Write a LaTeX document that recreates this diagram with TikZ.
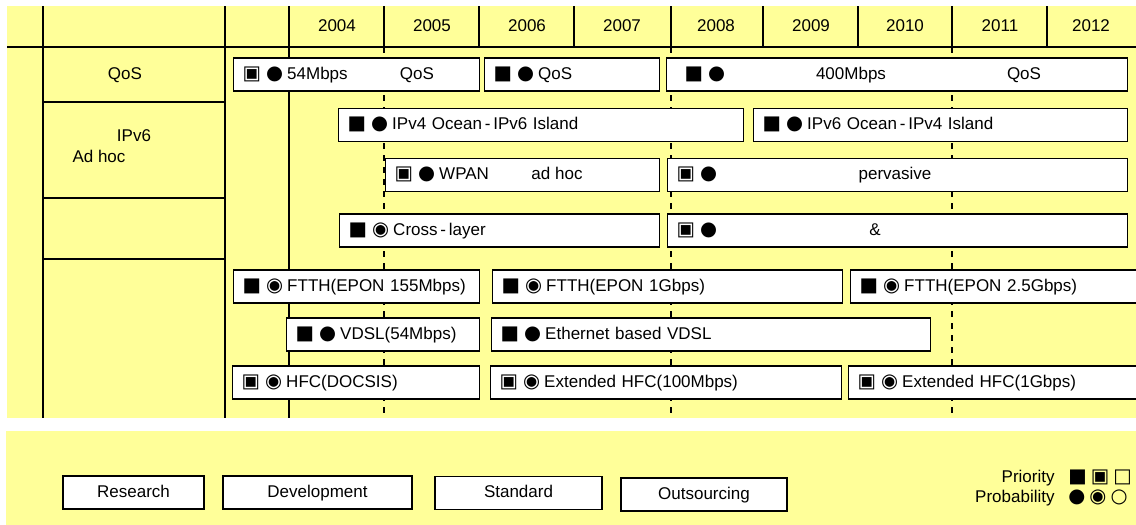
\documentclass[tikz,border=0pt]{standalone}
\usepackage{fontspec}
\setmainfont{Liberation Sans}
\newfontfamily\symfont[Scale=1.15]{DejaVu Sans}
\usepackage{tikz}

\definecolor{chartyellow}{HTML}{FFFF99}
\newcommand{\prhi}{{\symfont ■}}
\newcommand{\prmid}{{\symfont ▣}}
\newcommand{\prlo}{{\symfont □}}
\newcommand{\pbhi}{{\symfont ●}}
\newcommand{\pbmid}{{\symfont ◉}}
\newcommand{\pblo}{{\symfont ○}}
% priority mark, probability mark, then the text
\newcommand{\barmarks}[2]{#1\hspace{2.5pt}#2\hspace{2pt}}

\tikzset{
  gridline/.style={line width=0.6pt},
  lbl/.style={inner sep=0pt, text height=6.5pt, text depth=2pt},
  bar/.style={lbl, draw, fill=white, line width=0.7pt, anchor=west,
    minimum height=16.5pt, inner xsep=4.5pt, text width=#1, align=left},
  legbox/.style={lbl, draw, fill=white, line width=0.7pt, minimum height=16.5pt},
}

\begin{document}
\begin{tikzpicture}[x=0.5pt, y=-0.5pt, font=\fontsize{8.5}{10}\selectfont]
        % \draw[help lines] (0,0) grid (1136,525);
        \useasboundingbox (0,0) rectangle (1136,525);
        \fill[chartyellow] (7,6) rectangle (1136,418);
        \fill[chartyellow] (6,431) rectangle (1136,525);

        \foreach \x in {43,225,289,384,479,574,671,763,858,952,1047}
            \draw[gridline] (\x,6) -- (\x,47);
        \draw[gridline] (7,47) -- (1136,47);
        \foreach \x in {43,225,289}
            \draw[gridline] (\x,47) -- (\x,418);
        \foreach \x in {384,671,952}
            \draw[gridline, dashed] (\x,47) -- (\x,418);
        \foreach \y in {102,198,259}
            \draw[gridline] (43,\y) -- (225,\y);

        \foreach \yr/\x in {2004/337,2005/432,2006/527,2007/622,2008/716,2009/811,2010/905,2011/1000,2012/1091}
            \node[lbl] (y\yr) at (\x,27) {\yr};

        \node[lbl] (qos) at (125,75) {QoS};
        \node[lbl] (ipv6) at (134,137) {IPv6};
        \node[lbl] (adhoc) at (99,158) {Ad hoc};

        \node[bar=114pt] (r1a) at (233,74.5) {\barmarks\prmid\pbhi 54Mbps};
        \node[lbl] (r1aqos) at (417,74.5) {QoS};
        \node[bar=78.5pt] (r1b) at (484,74.5) {\barmarks\prhi\pbhi QoS};
        \node[bar=221.5pt] (r1c) at (666,74.5) {\hspace*{4.5pt}\barmarks\prhi\pbhi};
        \node[lbl] (r1crate) at (851,74.5) {400Mbps};
        \node[lbl] (r1cqos) at (1024,74.5) {QoS};

        \node[bar=193.5pt] (r2a) at (338,125) {\barmarks\prhi\pbhi IPv4 Ocean\,-\,IPv6 Island};
        \node[bar=178pt] (r2b) at (753,125) {\barmarks\prhi\pbhi IPv6 Ocean\,-\,IPv4 Island};

        \node[bar=128pt] (r3a) at (385,175) {\barmarks\prmid\pbhi WPAN};
        \node[lbl] (r3aadhoc) at (557,175) {ad hoc};
        \node[bar=221pt] (r3b) at (667,175) {\barmarks\prmid\pbhi};
        \node[lbl] (r3bperv) at (895,175) {pervasive};

        \node[bar=151pt] (r4a) at (339,230.5) {\barmarks\prhi\pbmid Cross\,-\,layer};
        \node[bar=221pt] (r4b) at (667,230.5) {\barmarks\prmid\pbhi};
        \node[lbl] (r4bamp) at (875,230.5) {\&};

        \node[bar=114pt] (r5a) at (233,286.5) {\barmarks\prhi\pbmid FTTH(EPON 155Mbps)};
        \node[bar=166pt] (r5b) at (492,286.5) {\barmarks\prhi\pbmid FTTH(EPON 1Gbps)};
        \node[bar=141pt] (r5c) at (850,286.5) {\barmarks\prhi\pbmid FTTH(EPON 2.5Gbps)};

        \node[bar=87.5pt] (r6a) at (286,334.5) {\barmarks\prhi\pbhi VDSL(54Mbps)};
        \node[bar=210.5pt] (r6b) at (491,334.5) {\barmarks\prhi\pbhi Ethernet based VDSL};

        \node[bar=114.5pt] (r7a) at (232,382.5) {\barmarks\prmid\pbmid HFC(DOCSIS)};
        \node[bar=166.5pt] (r7b) at (490,382.5) {\barmarks\prmid\pbmid Extended HFC(100Mbps)};
        \node[bar=142pt] (r7c) at (848,382.5) {\barmarks\prmid\pbmid Extended HFC(1Gbps)};

        \node[legbox, minimum width=70.5pt] (research) at (133.5,492.5) {Research};
        \node[legbox, minimum width=94.5pt] (develop) at (317.5,492.5) {Development};
        \node[legbox, minimum width=83.5pt] (standard) at (518.5,493) {Standard};
        \node[legbox, minimum width=83pt] (outsrc) at (704,494.5) {Outsourcing};

        \node[lbl, anchor=east] (prio) at (1055,478) {Priority};
        \node[lbl, anchor=west] (priosym) at (1068,478) {\prhi\hspace{2pt}\prmid\hspace{2pt}\prlo};
        \node[lbl, anchor=east] (prob) at (1055,498) {Probability};
        \node[lbl, anchor=west] (probsym) at (1068,498) {\pbhi\hspace{2pt}\pbmid\hspace{2pt}\pblo};
\end{tikzpicture}
\end{document}
